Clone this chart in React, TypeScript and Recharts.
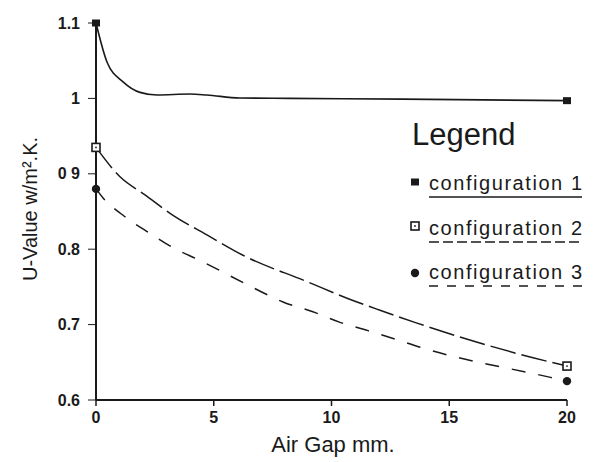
import React from 'react';
import { ComposedChart, Line, XAxis, YAxis, Label } from 'recharts';

// Air gap (mm) and U-value readings for each configuration
const gap1 = [0, 0.47, 1.15, 1.87, 2.59, 3.99, 4.71, 6.1, 8.2, 13, 20];
const uval1 = [1.1, 1.048, 1.022, 1.008, 1.0045, 1.0058, 1.0045, 1.0005, 1.0, 0.999, 0.997];

const gap2 = [0, 1.02, 2.08, 3.27, 4.71, 6.24, 8.96, 10.66, 12.06, 13.63, 18.56, 20];
const uval2 = [0.935, 0.896, 0.872, 0.845, 0.819, 0.792, 0.757, 0.735, 0.719, 0.702, 0.656, 0.645];

const gap3 = [0, 0.3, 1.15, 2.29, 3.27, 4.42, 6.67, 7.94, 9.21, 10.36, 11.55, 12.78, 13.76, 19.3, 20];
const uval3 = [0.88, 0.868, 0.845, 0.821, 0.802, 0.785, 0.749, 0.73, 0.717, 0.703, 0.692, 0.68, 0.67, 0.63, 0.625];

const xTicks = [0, 5, 10, 15, 20];
const yTicks = [0.6, 0.7, 0.8, 0.9, 1, 1.1];
const yTickLabels: Record<string, string> = {
  '0.6': '0.6',
  '0.7': '0.7',
  '0.8': '0.8',
  '0.9': '0 9',
  '1.0': '1',
  '1.1': '1.1',
};

const seriesNames = ['configuration 1', 'configuration 2', 'configuration 3'];
const legendTitle = 'Legend';
const xTitle = 'Air Gap mm.';
const yTitle = 'U-Value w/m².K.';

const toRows = (xs: number[], ys: number[]) => xs.map((x, i) => ({ x, y: ys[i] }));
const data1 = toRows(gap1, uval1);
const data2 = toRows(gap2, uval2);
const data3 = toRows(gap3, uval3);

const INK = '#1a1a1a';
const FONT = '"Liberation Sans", Arial, Helvetica, sans-serif';

type Kind = 'filled' | 'hollow' | 'circle';

const Marker = ({ cx, cy, kind }: { cx: number; cy: number; kind: Kind }) => {
  if (kind === 'filled') return <rect x={cx - 4} y={cy - 3.5} width={8} height={7} fill={INK} />;
  if (kind === 'hollow')
    return (
      <g>
        <rect x={cx - 4} y={cy - 4} width={8} height={8} fill="#fff" stroke={INK} strokeWidth={1.6} />
        <circle cx={cx} cy={cy} r={0.9} fill={INK} />
      </g>
    );
  return <circle cx={cx} cy={cy} r={4.2} fill={INK} />;
};

const endDots = (kind: Kind, len: number) => (props: any) => {
  const { cx, cy, index } = props;
  if (index !== 0 && index !== len - 1) return <g key={`d-${kind}-${index}`} />;
  return (
    <g key={`d-${kind}-${index}`}>
      <Marker cx={cx} cy={cy} kind={kind} />
    </g>
  );
};

const legendKinds: Kind[] = ['filled', 'hollow', 'circle'];
const underlineDash = ['none', '10 4', '9 9'];

const LegendBox = () => (
  <svg width={197} height={200} style={{ position: 'absolute', left: 400, top: 100 }}>
    <text x={12} y={45} fontSize={31} fill={INK} fontFamily={FONT}>
      {legendTitle}
    </text>
    {seriesNames.map((name, i) => {
      const my = [82, 126, 173][i];
      const ty = [90, 135, 179][i];
      return (
        <g key={name}>
          <Marker cx={15} cy={my} kind={legendKinds[i]} />
          <text x={29} y={ty} fontSize={20} fill={INK} fontFamily={FONT} textLength={153} lengthAdjust="spacing">
            {name}
          </text>
          <line
            x1={29}
            x2={182}
            y1={ty + 7}
            y2={ty + 7}
            stroke={INK}
            strokeWidth={1.5}
            strokeDasharray={underlineDash[i] === 'none' ? undefined : underlineDash[i]}
          />
        </g>
      );
    })}
  </svg>
);

export default function App() {
  return (
    <div style={{ position: 'absolute', left: 0, top: 0, width: 597, height: 462, background: '#fff' }}>
      <ComposedChart
        width={597}
        height={462}
        margin={{ top: 23, right: 30, bottom: 0, left: 0 }}
        style={{ fontFamily: FONT }}
      >
        <XAxis
          type="number"
          dataKey="x"
          domain={[0, 20]}
          ticks={xTicks}
          allowDuplicatedCategory={false}
          height={62}
          tickSize={6}
          tickMargin={6}
          axisLine={{ stroke: INK, strokeWidth: 2 }}
          tickLine={{ stroke: INK, strokeWidth: 1.5 }}
          tick={{ fill: INK, fontSize: 16, fontWeight: 'bold' }}
        >
          <Label
            content={() => (
              <text x={333} y={452} textAnchor="middle" fontSize={22} fill={INK} fontFamily={FONT}>
                {xTitle}
              </text>
            )}
          />
        </XAxis>
        <YAxis
          type="number"
          dataKey="y"
          domain={[0.6, 1.1]}
          ticks={yTicks}
          width={96}
          tickSize={8}
          tickMargin={8}
          tickFormatter={(v: number) => yTickLabels[Number(v).toFixed(1)] ?? String(v)}
          axisLine={{ stroke: INK, strokeWidth: 2 }}
          tickLine={{ stroke: INK, strokeWidth: 1 }}
          tick={{ fill: INK, fontSize: 16, fontWeight: 'bold' }}
        >
          <Label
            content={() => (
              <text
                x={30}
                y={209}
                transform="rotate(-90 30 209)"
                textAnchor="middle"
                dominantBaseline="central"
                fontSize={20}
                fill={INK}
                fontFamily={FONT}
              >
                {yTitle}
              </text>
            )}
          />
        </YAxis>
        <Line
          data={data1}
          dataKey="y"
          type="monotone"
          stroke={INK}
          strokeWidth={1.6}
          dot={endDots('filled', data1.length)}
          activeDot={false}
          isAnimationActive={false}
          name={seriesNames[0]}
        />
        <Line
          data={data2}
          dataKey="y"
          type="monotone"
          stroke={INK}
          strokeWidth={1.5}
          strokeDasharray="26 6"
          dot={endDots('hollow', data2.length)}
          activeDot={false}
          isAnimationActive={false}
          name={seriesNames[1]}
        />
        <Line
          data={data3}
          dataKey="y"
          type="monotone"
          stroke={INK}
          strokeWidth={1.5}
          strokeDasharray="14 13"
          dot={endDots('circle', data3.length)}
          activeDot={false}
          isAnimationActive={false}
          name={seriesNames[2]}
        />
      </ComposedChart>
      <LegendBox />
    </div>
  );
}
